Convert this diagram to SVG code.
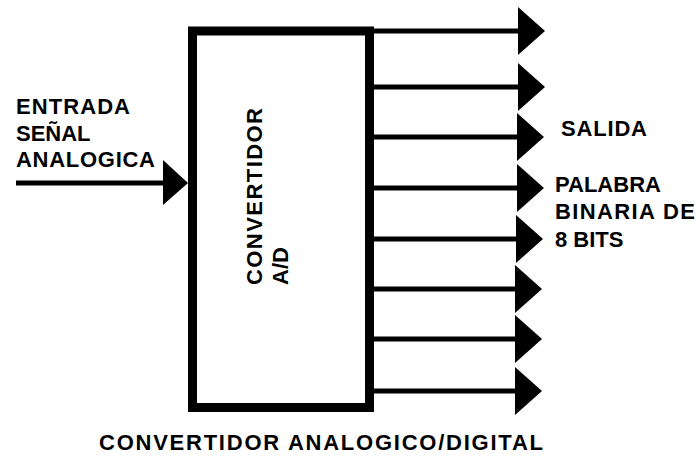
<svg xmlns="http://www.w3.org/2000/svg" width="697" height="456" viewBox="0 0 697 456">
<style>
.t{font-family:"Liberation Sans",Arial,sans-serif;font-weight:bold;font-size:22px;fill:#000}
.ln{stroke:#000;stroke-width:5;fill:none}
.hd{fill:#000}
</style>
<defs>
<path id="ah" d="M0,-24 L27,0 L0,24 Z"/>
</defs>
<rect width="697" height="456" fill="#fff"/>
<g id="converter">
<rect x="192.5" y="31" width="177" height="376.5" fill="#fff" stroke="#000" stroke-width="9"/>
<text class="t" font-size="24" transform="translate(262,285) rotate(-90)" textLength="177" lengthAdjust="spacing">CONVERTIDOR</text>
<text class="t" font-size="24" transform="translate(288,285) rotate(-90)">A/D</text>
</g>
<g id="input-label">
<text class="t" x="16" y="114" textLength="114" lengthAdjust="spacing">ENTRADA</text>
<text class="t" x="16" y="141">SEÑAL</text>
<text class="t" x="16" y="167" textLength="139" lengthAdjust="spacing">ANALOGICA</text>
</g>
<g id="output-label">
<text class="t" x="561" y="136" textLength="86" lengthAdjust="spacing">SALIDA</text>
<text class="t" x="555" y="192">PALABRA</text>
<text class="t" x="555" y="219" textLength="140" lengthAdjust="spacing">BINARIA DE</text>
<text class="t" x="555" y="247">8 BITS</text>
</g>
<g id="title">
<text class="t" font-size="24" x="99" y="450" textLength="444" lengthAdjust="spacing">CONVERTIDOR ANALOGICO/DIGITAL</text>
</g>
<g id="connectors">
<line class="ln" x1="16" y1="183" x2="166" y2="183" stroke-width="6"/>
<polygon class="hd" points="163,160 188,183 163,205"/>
<line class="ln" x1="372" y1="31" x2="520" y2="31"/>
<line class="ln" x1="372" y1="87" x2="520" y2="87"/>
<line class="ln" x1="372" y1="137" x2="520" y2="137"/>
<line class="ln" x1="372" y1="188" x2="520" y2="188"/>
<line class="ln" x1="372" y1="239" x2="520" y2="239"/>
<line class="ln" x1="372" y1="289" x2="520" y2="289"/>
<line class="ln" x1="372" y1="339" x2="520" y2="339"/>
<line class="ln" x1="372" y1="391" x2="520" y2="391"/>
<use href="#ah" class="hd" transform="translate(518,31)"/>
<use href="#ah" class="hd" transform="translate(518,87)"/>
<use href="#ah" class="hd" transform="translate(517,137)"/>
<use href="#ah" class="hd" transform="translate(517,188)"/>
<use href="#ah" class="hd" transform="translate(516,239)"/>
<use href="#ah" class="hd" transform="translate(515,289)"/>
<use href="#ah" class="hd" transform="translate(515,339)"/>
<use href="#ah" class="hd" transform="translate(515,391)"/>
</g>
</svg>
